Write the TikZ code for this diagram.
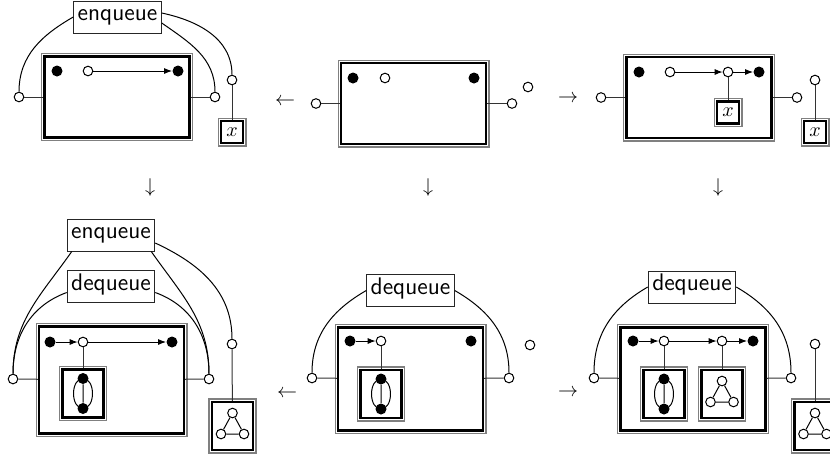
\documentclass[tikz,border=0pt]{standalone}
\usepackage{tikz}
\usetikzlibrary{arrows.meta}
\tikzset{
  vtx/.style={circle,fill=black,inner sep=0pt,minimum size=5.5pt},
  plain/.style={circle,fill=white,draw=black,line width=.5pt,inner sep=0pt,minimum size=4.8pt},
  frm/.style={rectangle,fill=white,draw=black,line width=1.2pt,inner sep=0pt,
    preaction={draw=black!50,line width=3.6pt},
    preaction={draw=white,line width=2.4pt}},
  qbox/.style={frm,minimum width=72.4pt,minimum height=#1},
  sub/.style={frm,minimum width=20.5pt,minimum height=24pt},
  xbox/.style={frm,minimum size=10.9pt},
  op/.style={draw=black!85,line width=.5pt,fill=white,font=\sffamily\large,inner sep=2pt,text height=7.8pt,text depth=4.2pt},
  edg/.style={line width=.5pt},
  lnk/.style={line width=.5pt,black!80},
  arr/.style={-{Latex[length=4pt,width=3pt]},line width=.5pt},
}
\begin{document}
\begin{tikzpicture}[x=0.5pt,y=0.5pt]
  \useasboundingbox (0,0) rectangle (830,-457);
  \clip (0,0) rectangle (830,-457);
  % top row
  \node[qbox=40.4pt] (qa) at (117,-97) {};
  \node[vtx] (ha) at (57,-71) {};
  \node[plain] (na) at (88,-71) {};
  \node[vtx] (ta) at (178,-71) {};
  \draw[arr] (na) -- (ta);
  \node[plain] (la) at (19,-97) {};
  \node[plain] (ra) at (215,-97) {};
  \draw[lnk] (la) -- (qa) (qa) -- (ra);
  \node[op] (ea) at (117.5,-17) {enqueue};
  \node[plain] (ua) at (232,-80) {};
  \node[xbox] (xa) at (232,-132) {$x$};
  \draw[lnk] (ua) -- (xa);
  \draw[edg] (la) to[out=90,in=210] (ea.west);
  \draw[edg] ([yshift=2pt]ea.east) to[out=-12,in=90] (ua);
  \draw[edg] ([yshift=-3pt]ea.east) to[out=-35,in=90] (ra);

  \node[qbox=40.4pt] (qb) at (413.5,-103.5) {};
  \node[vtx] (hb) at (353,-78) {};
  \node[plain] (nb) at (385,-78) {};
  \node[vtx] (tb) at (474,-78) {};
  \node[plain] (lb) at (316,-103.5) {};
  \node[plain] (rb) at (512,-103.5) {};
  \draw[lnk] (lb) -- (qb) (qb) -- (rb);
  \node[plain] (ub) at (528,-87) {};

  \node[qbox=40.4pt] (qc) at (699,-97.5) {};
  \node[vtx] (hc) at (639,-72) {};
  \node[plain] (nc) at (670,-72) {};
  \node[plain] (mc) at (728,-72) {};
  \node[vtx] (tc) at (759,-72) {};
  \draw[arr] (nc) -- (mc);
  \draw[arr] (mc) -- (tc);
  \node[xbox] (xc) at (728,-112.5) {$x$};
  \draw[lnk] (mc) -- (xc);
  \node[plain] (lc) at (601,-97.5) {};
  \node[plain] (rc) at (797,-97.5) {};
  \draw[lnk] (lc) -- (qc) (qc) -- (rc);
  \node[plain] (uc) at (815,-80) {};
  \node[xbox] (yc) at (815,-132) {$x$};
  \draw[lnk] (uc) -- (yc);

  \node (s1) at (285,-102) {$\leftarrow$};
  \node (s2) at (568,-99) {$\rightarrow$};
  \node (s3) at (150,-187) {$\downarrow$};
  \node (s4) at (428,-187) {$\downarrow$};
  \node (s5) at (718,-187) {$\downarrow$};
  \node (s6) at (287,-394) {$\leftarrow$};
  \node (s7) at (568,-393) {$\rightarrow$};

  % bottom row
  \node[qbox=53.4pt] (qd) at (111.5,-380) {};
  \node[vtx] (hd) at (50,-342) {};
  \node[plain] (nd) at (83,-342) {};
  \node[vtx] (td) at (172,-342) {};
  \draw[arr] (hd) -- (nd);
  \draw[arr] (nd) -- (td);
  \node[sub] (gd) at (83,-393.5) {};
  \draw[lnk] (nd) -- (gd);
  \node[plain] (ld) at (13,-379) {};
  \node[plain] (rd) at (209,-379) {};
  \draw[lnk] (ld) -- (qd) (qd) -- (rd);
  \node[plain] (ud) at (232,-344) {};
  \node[sub] (kd) at (232.5,-426) {};
  \draw[lnk] (ud) -- (kd);
  \node[op] (ed) at (111,-235) {enqueue};
  \node[op] (dd) at (111,-286.5) {dequeue};
  \draw[edg] (ld) to[out=90,in=235] ([xshift=2.5pt]ed.south west);
  \draw[edg] (ld) to[out=90,in=200] ([yshift=-3pt]dd.west);
  \draw[edg] ([yshift=-4pt]ed.east) to[out=-25,in=90] (ud);
  \draw[edg] ([xshift=-2pt]ed.south east) to[out=-55,in=90] (rd);
  \draw[edg] ([yshift=-3pt]dd.east) to[out=-20,in=90] (rd);

  \node[qbox=51.4pt] (qe) at (410.5,-379) {};
  \node[vtx] (he) at (350,-341) {};
  \node[plain] (ne) at (381,-341) {};
  \node[vtx] (te) at (471,-341) {};
  \draw[arr] (he) -- (ne);
  \node[sub] (ge) at (381,-394) {};
  \draw[lnk] (ne) -- (ge);
  \node[plain] (le) at (312,-378) {};
  \node[plain] (re) at (509,-378) {};
  \draw[lnk] (le) -- (qe) (qe) -- (re);
  \node[plain] (ue) at (530,-345) {};
  \node[op] (de) at (410.5,-290.5) {dequeue};
  \draw[edg] (le) to[out=90,in=210] (de.west);
  \draw[edg] (de.east) to[out=-30,in=90] (re);

  \node[qbox=51.4pt] (qf) at (693,-379) {};
  \node[vtx] (hf) at (633,-341) {};
  \node[plain] (nf) at (664,-341) {};
  \node[plain] (mf) at (722,-341) {};
  \node[vtx] (tf) at (753,-341) {};
  \draw[arr] (hf) -- (nf);
  \draw[arr] (nf) -- (mf);
  \draw[arr] (mf) -- (tf);
  \node[sub] (gf) at (664,-394) {};
  \node[sub] (kf) at (722,-394) {};
  \draw[lnk] (nf) -- (gf) (mf) -- (kf);
  \node[plain] (lf) at (594,-378) {};
  \node[plain] (rf) at (791,-378) {};
  \draw[lnk] (lf) -- (qf) (qf) -- (rf);
  \node[plain] (uf) at (815,-344) {};
  \node[sub] (kg) at (815,-426) {};
  \draw[lnk] (uf) -- (kg);
  \node[op] (df) at (692,-287) {dequeue};
  \draw[edg] (lf) to[out=90,in=210] (df.west);
  \draw[edg] (df.east) to[out=-30,in=90] (rf);

  \foreach \b in {gd,ge,gf}{
    \node[vtx] (\b1) at ([shift={(0,15)}]\b.center) {};
    \node[vtx] (\b2) at ([shift={(0,-15)}]\b.center) {};
    \draw[edg] (\b1) -- (\b2) (\b1.center) to[out=180,in=180,looseness=1.08] (\b2.center) (\b1.center) to[out=0,in=0,looseness=1.08] (\b2.center);
  }
  \foreach \b in {kd,kf,kg}{
    \node[plain] (\b1) at ([shift={(0,13)}]\b.center) {};
    \node[plain] (\b2) at ([shift={(-11.5,-8)}]\b.center) {};
    \node[plain] (\b3) at ([shift={(11.5,-8)}]\b.center) {};
    \draw[edg] (\b1) -- (\b2) -- (\b3) -- (\b1);
  }
\end{tikzpicture}
\end{document}
